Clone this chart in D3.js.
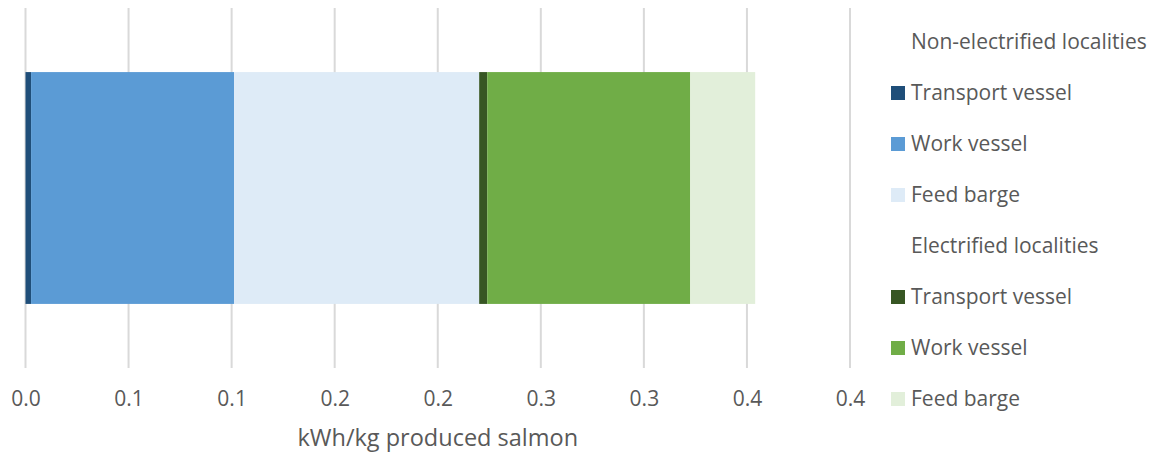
<!DOCTYPE html>
<html>
<head>
<meta charset="utf-8">
<script src="https://cdn.jsdelivr.net/npm/d3@7"></script>
<style>
  html, body { margin: 0; padding: 0; background: #fff; }
  svg { display: block; font-family: "Open Sans", sans-serif; }
</style>
</head>
<body>
<svg id="chart" width="1156" height="452"></svg>
<script>
// Energy use per kg produced salmon, stacked by locality type and source
const groups = ["Non-electrified localities", "Electrified localities"];
const sources = ["Transport vessel", "Work vessel", "Feed barge"];
const seriesKeys = ["ne_transport", "ne_work", "ne_feed", "e_transport", "e_work", "e_feed"];
const seriesValues = [0.0027, 0.0985, 0.1189, 0.0039, 0.0985, 0.0315];
const seriesColors = ["#1f4e79", "#5b9bd5", "#deebf7", "#375623", "#70ad47", "#e2efda"];
const tickValues = [0, 0.05, 0.1, 0.15, 0.2, 0.25, 0.3, 0.35, 0.4];
const tickLabels = ["0.0", "0.1", "0.1", "0.2", "0.2", "0.3", "0.3", "0.4", "0.4"];
const axisTitle = "kWh/kg produced salmon";

const svg = d3.select("#chart");
const textColor = "#595959";
const gridColor = "#d9d9d9";

const plot = { left: 25.5, right: 850, top: 8, bottom: 368 };

const x = d3.scaleLinear().domain([0, 0.4]).range([plot.left, plot.right]);
const y = d3.scaleBand().domain(["all"]).range([plot.top, plot.bottom]).paddingInner(0.356).paddingOuter(0.178);

// gridlines
svg.append("g")
  .selectAll("line")
  .data(tickValues)
  .join("line")
  .attr("x1", d => x(d)).attr("x2", d => x(d))
  .attr("y1", plot.top).attr("y2", plot.bottom)
  .attr("stroke", gridColor)
  .attr("stroke-width", 2);

// stacked bar
const row = { id: "all" };
seriesKeys.forEach((k, i) => row[k] = seriesValues[i]);
const stacked = d3.stack().keys(seriesKeys)([row]);

svg.append("g")
  .selectAll("rect")
  .data(stacked)
  .join("rect")
  .attr("x", d => x(d[0][0]))
  .attr("width", d => x(d[0][1]) - x(d[0][0]))
  .attr("y", y("all"))
  .attr("height", y.bandwidth())
  .attr("fill", (d, i) => seriesColors[i]);

// x axis labels
const axis = d3.axisBottom(x)
  .tickValues(tickValues)
  .tickFormat((d, i) => tickLabels[i])
  .tickSize(0)
  .tickPadding(0);

const axisG = svg.append("g")
  .attr("transform", `translate(0, ${plot.bottom})`)
  .call(axis);
axisG.select(".domain").remove();
axisG.selectAll("text")
  .attr("y", 31)
  .attr("dy", "0.35em")
  .attr("fill", textColor)
  .style("font-family", "'Open Sans', sans-serif")
  .style("font-size", "21px");

svg.append("text")
  .attr("x", (plot.left + plot.right) / 2)
  .attr("y", 438)
  .attr("dy", "0.35em")
  .attr("text-anchor", "middle")
  .attr("fill", textColor)
  .style("font-size", "23.5px")
  .text(axisTitle);

// legend: a header per locality type followed by its sources
const legendItems = [];
groups.forEach((g, gi) => {
  legendItems.push({ label: g, color: null });
  sources.forEach((s, si) => legendItems.push({ label: s, color: seriesColors[gi * 3 + si] }));
});

const legend = svg.append("g").attr("transform", "translate(891, 0)");
const rowY = i => 42 + i * 51;

const items = legend.selectAll("g")
  .data(legendItems)
  .join("g")
  .attr("transform", (d, i) => `translate(0, ${rowY(i)})`);

items.filter(d => d.color)
  .append("rect")
  .attr("x", 0).attr("y", -7)
  .attr("width", 14).attr("height", 14)
  .attr("fill", d => d.color);

items.append("text")
  .attr("x", 20)
  .attr("dy", "0.35em")
  .attr("fill", textColor)
  .style("font-size", "21px")
  .text(d => d.label);
</script>
</body>
</html>
